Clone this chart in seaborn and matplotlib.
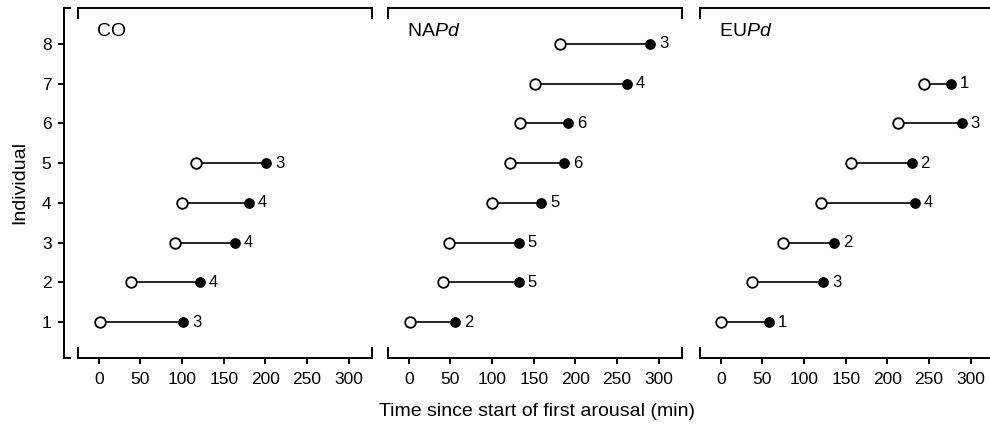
import matplotlib
matplotlib.use("Agg")
import matplotlib.pyplot as plt
import matplotlib.transforms as mtransforms
import seaborn as sns
import pandas as pd

# ---- data ----
panels = ["CO", "NAPd", "EUPd"]
panel_titles = ["CO", r"NA$\mathit{Pd}$", r"EU$\mathit{Pd}$"]

co_ind = [1, 2, 3, 4, 5]
co_start = [1, 39, 92, 100, 117]
co_end = [101, 121, 163, 180, 201]
co_n = [3, 4, 4, 4, 3]

na_ind = [1, 2, 3, 4, 5, 6, 7, 8]
na_start = [1, 41, 48, 100, 121, 133, 151, 182]
na_end = [56, 132, 132, 159, 186, 191, 262, 290]
na_n = [2, 5, 5, 5, 6, 6, 4, 3]

eu_ind = [1, 2, 3, 4, 5, 6, 7]
eu_start = [0, 37, 75, 120, 156, 213, 244]
eu_end = [58, 123, 136, 233, 229, 289, 276]
eu_n = [1, 3, 2, 4, 2, 3, 1]

x_ticks = [0, 50, 100, 150, 200, 250, 300]
y_ticks = [1, 2, 3, 4, 5, 6, 7, 8]

groups = {
    "CO": (co_ind, co_start, co_end, co_n),
    "NAPd": (na_ind, na_start, na_end, na_n),
    "EUPd": (eu_ind, eu_start, eu_end, eu_n),
}

sns.set_theme(style="white")
plt.rcParams["font.family"] = ["Liberation Sans", "DejaVu Sans"]
plt.rcParams["mathtext.fontset"] = "custom"
plt.rcParams["mathtext.rm"] = "Liberation Sans"
plt.rcParams["mathtext.it"] = "Liberation Sans:italic"
for k in ["text.color", "axes.labelcolor", "xtick.color", "ytick.color", "axes.edgecolor"]:
    plt.rcParams[k] = "black"
plt.rcParams["xtick.labelsize"] = 12.5
plt.rcParams["ytick.labelsize"] = 12.5

W, H = 990, 429
fig = plt.figure(figsize=(W / 100, H / 100), dpi=100)

top_px, bot_px = 8, 358
lefts = [78, 388, 700]
width_px = 294

xlim = (-25, 328)
ylim = (0.1, 8.9)
lw_spine = 1.4
tick_px_end = 10
px2pt = 72 / 100

axes = []
for i, key in enumerate(panels):
    ax = fig.add_axes([lefts[i] / W, (H - bot_px) / H, width_px / W, (bot_px - top_px) / H])
    axes.append(ax)
    ind, st, en, n = groups[key]
    df = pd.DataFrame({"ind": ind, "start": st, "end": en, "n": n})
    long = pd.concat([
        pd.DataFrame({"ind": df["ind"], "time": df["start"], "kind": "start"}),
        pd.DataFrame({"ind": df["ind"], "time": df["end"], "kind": "end"}),
    ], ignore_index=True)

    sns.lineplot(data=long, x="time", y="ind", units="ind", estimator=None,
                 sort=False, orient="y", color="black", lw=1.2, ax=ax, legend=False)
    sns.scatterplot(data=long[long.kind == "end"], x="time", y="ind", ax=ax,
                    color="black", edgecolor="black", s=45, linewidth=1.0, zorder=3,
                    legend=False)
    sns.scatterplot(data=long[long.kind == "start"], x="time", y="ind", ax=ax,
                    color="white", edgecolor="black", s=58, linewidth=1.3, zorder=3,
                    legend=False)
    for _, r in df.iterrows():
        ax.annotate(str(r["n"]), (r["end"], r["ind"]), xytext=(6.5, 0),
                    textcoords="offset points", ha="left", va="center", fontsize=12)

    ax.set_xlim(*xlim)
    ax.set_ylim(*ylim)
    ax.set_xticks(x_ticks)
    ax.set_xticklabels([str(t) for t in x_ticks])
    ax.set_xlabel("")
    ax.set_ylabel("")
    ax.tick_params(axis="x", direction="out", length=4, width=lw_spine, pad=6,
                   colors="black", bottom=True, labelsize=12.5)
    for s in ["left", "right", "top"]:
        ax.spines[s].set_visible(False)
    ax.spines["bottom"].set_visible(True)
    ax.spines["bottom"].set_linewidth(lw_spine)
    ax.spines["bottom"].set_color("black")
    # top bracket line
    ax.plot([0, 1], [1, 1], transform=ax.transAxes, color="black", lw=lw_spine,
            clip_on=False, solid_capstyle="butt")
    fr = tick_px_end / (bot_px - top_px)
    ends = (0, 1) if i < 2 else (0,)
    for xe in ends:
        ax.plot([xe, xe], [0, fr], transform=ax.transAxes, color="black", lw=lw_spine,
                clip_on=False, solid_capstyle="projecting")
        ax.plot([xe, xe], [1, 1 - fr], transform=ax.transAxes, color="black", lw=lw_spine,
                clip_on=False, solid_capstyle="projecting")
    ax.text((97 - lefts[0]) / width_px, (bot_px - 31) / (bot_px - top_px), panel_titles[i],
            transform=ax.transAxes, ha="left", va="center", fontsize=14)
    if i == 0:
        out_px = 14
        ax.set_yticks(y_ticks)
        ax.set_yticklabels([str(t) for t in y_ticks])
        ax.spines["left"].set_visible(True)
        ax.spines["left"].set_position(("outward", out_px * px2pt))
        ax.spines["left"].set_linewidth(lw_spine)
        ax.spines["left"].set_color("black")
        ax.tick_params(axis="y", direction="out", length=4, width=lw_spine, pad=5,
                       colors="black", left=True, labelsize=12.5)
        # hooks at the ends of the y axis line
        trans = mtransforms.offset_copy(ax.transAxes, fig=fig, x=-out_px * px2pt, units="points")
        hook = 6 / width_px
        ax.plot([0, hook], [0, 0], transform=trans, color="black", lw=lw_spine, clip_on=False,
                solid_capstyle="projecting")
        ax.plot([0, hook], [1, 1], transform=trans, color="black", lw=lw_spine, clip_on=False,
                solid_capstyle="projecting")
    else:
        ax.set_yticks([])

fig.text(537 / W, 1 - 411 / H, "Time since start of first arousal (min)", ha="center",
         va="center", fontsize=14)
fig.text(20 / W, 1 - 183 / H, "Individual", ha="center", va="center", rotation=90,
         fontsize=14)

fig.savefig("out.png", dpi=100)
